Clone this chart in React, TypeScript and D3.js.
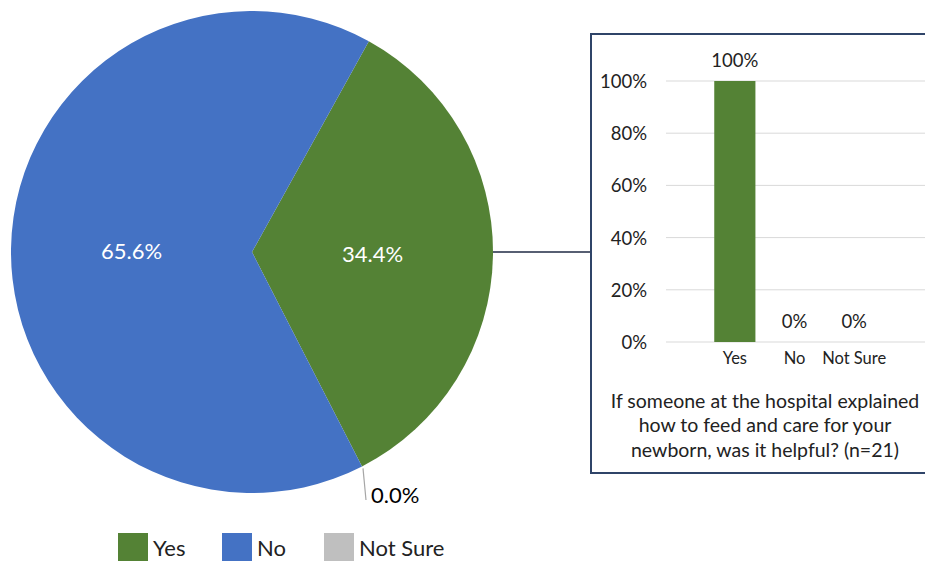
import React from "react";
import * as d3 from "d3";

const categories = ["Yes", "No", "Not Sure"];
const pieValues = [34.4, 65.6, 0.0];
const barValues = [100, 0, 0];
const yTicks = [0, 20, 40, 60, 80, 100];
const captionLines = [
  "If someone at the hospital explained",
  "how to feed and care for your",
  "newborn, was it helpful? (n=21)",
];
const colors = ["#548235", "#4472C4", "#BFBFBF"];
const drawOrder = ["Yes", "Not Sure", "No"];

const FONT = "Lato, 'Open Sans', sans-serif";

export default function App() {
  const W = 925, H = 561;
  const cx = 252, cy = 252, r = 241;
  const data = categories.map((c, i) => ({ c, v: pieValues[i], color: colors[i] }));
  const pie = d3
    .pie<any>()
    .value((d) => d.v)
    .sort((a, b) => drawOrder.indexOf(a.c) - drawOrder.indexOf(b.c))
    .startAngle((29 * Math.PI) / 180)
    .endAngle((29 * Math.PI) / 180 + 2 * Math.PI);
  const arcs = pie(data);
  const arc = d3.arc<any>().innerRadius(0).outerRadius(r);

  // bar chart
  const y = d3.scaleLinear().domain([0, 100]).range([342, 81]);
  const x = d3.scaleBand().domain(categories).range([705, 884]).paddingInner(0.31).paddingOuter(0.155);

  const notSure = arcs.find((a) => a.data.c === "Not Sure")!;
  const ang = notSure.startAngle;
  const edgeX = cx + r * Math.sin(ang);
  const edgeY = cy - r * Math.cos(ang);

  const legendX = [118, 222, 324];

  return (
    <svg width={W} height={H} style={{ position: "absolute", left: 0, top: 0, fontFamily: FONT }}>
      <rect width={W} height={H} fill="#fff" />
      <g>
        {arcs.map((a, i) => (
          <path key={i} d={arc(a) || ""} transform={`translate(${cx},${cy})`} fill={a.data.color} />
        ))}
        {arcs
          .filter((a) => a.data.v > 0)
          .map((a, i) => {
            const [lx, ly] = arc.centroid(a);
            return (
              <text key={i} x={cx + lx} y={cy + ly} fill="#fff" fontSize={22} textAnchor="middle" dominantBaseline="central">
                {a.data.v.toFixed(1)}%
              </text>
            );
          })}
        <line x1={edgeX + 1} y1={edgeY + 2} x2={366} y2={500} stroke="#A6A6A6" strokeWidth={1.2} />
        <text x={371} y={494} fontSize={22} fill="#000" dominantBaseline="central">
          {notSure.data.v.toFixed(1)}%
        </text>
      </g>
      {/* connector */}
      <line x1={cx + r} y1={cy} x2={591} y2={cy} stroke="#1F2A44" strokeWidth={1.3} />
      {/* inset box */}
      <rect x={591} y={34} width={360} height={439} fill="#fff" stroke="#2F4468" strokeWidth={2} />
      {yTicks.map((t) => (
        <g key={t}>
          <line x1={666} x2={925} y1={y(t)} y2={y(t)} stroke="#D9D9D9" strokeWidth={1} />
          <text x={647} y={y(t)} textAnchor="end" dominantBaseline="central" fontSize={18.5} fill="#222">
            {t}%
          </text>
        </g>
      ))}
      {categories.map((c, i) => (
        <g key={c}>
          <rect x={x(c)!} y={y(barValues[i])} width={x.bandwidth()} height={y(0) - y(barValues[i])} fill={colors[0]} />
          <text x={x(c)! + x.bandwidth() / 2} y={y(barValues[i]) - 21} textAnchor="middle" dominantBaseline="central" fontSize={18.5} fill="#222">
            {barValues[i]}%
          </text>
          <text x={x(c)! + x.bandwidth() / 2} y={358} textAnchor="middle" dominantBaseline="central" fontSize={16.5} fill="#222">
            {c}
          </text>
        </g>
      ))}
      {captionLines.map((l, i) => (
        <text key={i} x={765} y={400 + i * 24.5} textAnchor="middle" dominantBaseline="central" fontSize={19.5} fill="#222">
          {l}
        </text>
      ))}
      {/* legend */}
      {categories.map((c, i) => (
        <g key={c}>
          <rect x={legendX[i]} y={533} width={30} height={30} fill={colors[i]} />
          <text x={legendX[i] + 35} y={547} fontSize={22} fill="#222" dominantBaseline="central">
            {c}
          </text>
        </g>
      ))}
    </svg>
  );
}
